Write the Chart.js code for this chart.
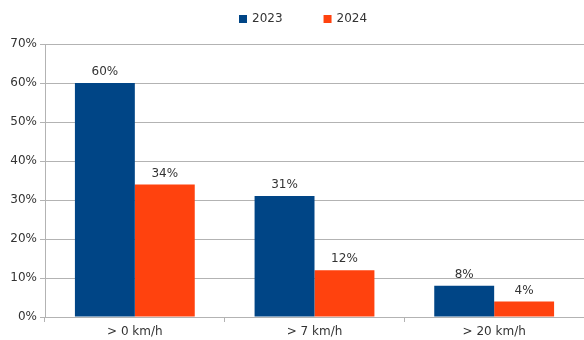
<!DOCTYPE html>
<html><head><meta charset="utf-8">
<script src="https://cdn.jsdelivr.net/npm/chart.js@4/dist/chart.umd.min.js"></script>
<style>html,body{margin:0;padding:0;background:#fff}#wrap{width:584px;height:340px}</style>
</head><body><div id="wrap"><canvas id="c" width="584" height="340"></canvas></div>
<script>
const categories = ['> 0 km/h', '> 7 km/h', '> 20 km/h'];
const seriesNames = ['2023', '2024'];
const values2023 = [60, 31, 8];
const values2024 = [34, 12, 4];
const yTicks = [0, 10, 20, 30, 40, 50, 60, 70];
const colors = ['#004586', '#ff420e'];
const FONT = 'DejaVu Sans';
const TXT = '#333333';
const GRID = '#b3b3b3';

const labelPlugin = {
  id: 'barLabels',
  afterDatasetsDraw(chart) {
    const ctx = chart.ctx;
    ctx.save();
    ctx.font = '12px "' + FONT + '"';
    ctx.fillStyle = TXT;
    ctx.textAlign = 'center';
    ctx.textBaseline = 'bottom';
    chart.data.datasets.forEach((ds, i) => {
      chart.getDatasetMeta(i).data.forEach((bar, j) => {
        ctx.fillText(ds.data[j] + '%', bar.x, bar.y - 5);
      });
    });
    ctx.restore();
  }
};

const legendPlugin = {
  id: 'customLegend',
  afterDraw(chart) {
    const ctx = chart.ctx;
    ctx.save();
    ctx.font = '12px "' + FONT + '"';
    ctx.textBaseline = 'middle';
    const box = 8, gap = 5, spacing = 41, y = 19;
    let x = chart.width / 2 - 53;
    chart.data.datasets.forEach(ds => {
      const w = ctx.measureText(ds.label).width;
      ctx.fillStyle = ds.backgroundColor;
      ctx.fillRect(x, y - box / 2, box, box);
      ctx.fillStyle = TXT;
      ctx.textAlign = 'left';
      ctx.fillText(ds.label, x + box + gap, y);
      x += box + gap + w + spacing;
    });
    ctx.restore();
  }
};

new Chart(document.getElementById('c'), {
  type: 'bar',
  data: {
    labels: categories,
    datasets: [
      {label: seriesNames[0], data: values2023, backgroundColor: colors[0], categoryPercentage: 0.667, barPercentage: 1.0},
      {label: seriesNames[1], data: values2024, backgroundColor: colors[1], categoryPercentage: 0.667, barPercentage: 1.0}
    ]
  },
  options: {
    responsive: false,
    animation: false,
    events: [],
    layout: {padding: {top: 44, left: 0, right: 0, bottom: 0}},
    plugins: {legend: {display: false}, tooltip: {enabled: false}},
    scales: {
      x: {
        grid: {display: true, drawOnChartArea: false, drawTicks: true, tickLength: 5, color: GRID, offset: true},
        border: {color: GRID},
        ticks: {color: TXT, font: {family: FONT, size: 12}, padding: 3, maxRotation: 0},
        afterFit: s => { s.height = 23; }
      },
      y: {
        min: 0, max: 70,
        afterBuildTicks: s => { s.ticks = yTicks.map(v => ({value: v})); },
        grid: {color: GRID, tickLength: 5},
        border: {color: GRID},
        ticks: {color: TXT, font: {family: FONT, size: 12}, padding: 3, callback: v => v + '%'},
        afterFit: s => { s.width = 45; }
      }
    }
  },
  plugins: [labelPlugin, legendPlugin]
});
</script></body></html>
